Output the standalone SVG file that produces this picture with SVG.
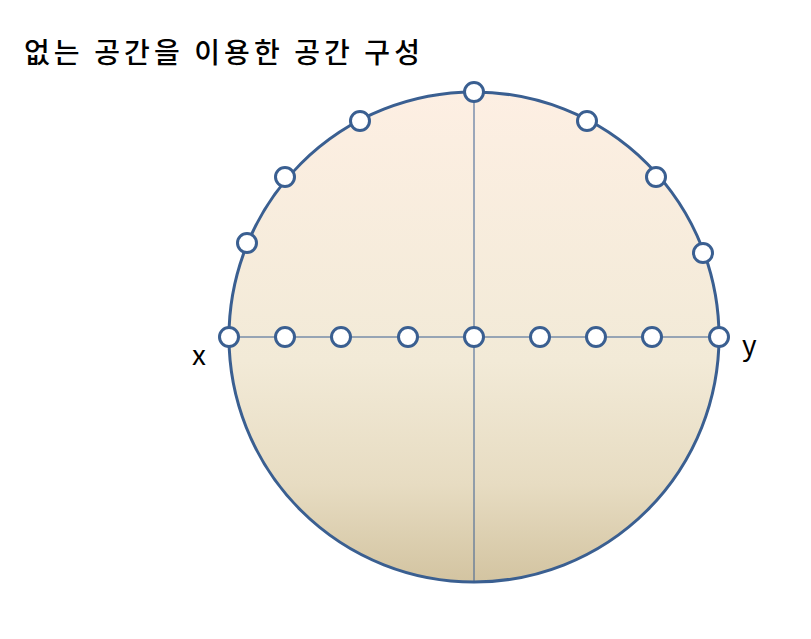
<svg xmlns="http://www.w3.org/2000/svg" width="811" height="639" viewBox="0 0 811 639">
  <defs>
    <linearGradient id="fill" x1="0" y1="0" x2="0" y2="1">
      <stop offset="0" stop-color="#fdefe3"/>
      <stop offset="0.55" stop-color="#f2ead7"/>
      <stop offset="0.8" stop-color="#e7dcc2"/>
      <stop offset="1" stop-color="#d3c4a1"/>
    </linearGradient>
  </defs>
  <style>
    .node { fill: #ffffff; stroke: #3a5f91; stroke-width: 3; }
    .axis { stroke: #3a5f91; stroke-width: 1; fill: none; }
    .lbl { font-family: "Noto Sans CJK KR", "Liberation Sans", sans-serif; fill: #000000; }
  </style>
  <rect width="811" height="639" fill="#ffffff"/>
  <text class="lbl" x="24" y="63" font-size="28" font-weight="500" textLength="396" lengthAdjust="spacing">없는 공간을 이용한 공간 구성</text>
  <g id="space">
    <circle cx="474" cy="337" r="245" fill="url(#fill)" stroke="#3a5f91" stroke-width="3"/>
  </g>
  <g id="connectors">
    <line class="axis" x1="229" y1="337" x2="719" y2="337"/>
    <line class="axis" x1="474" y1="92" x2="474" y2="582"/>
  </g>
  <g id="nodes">
    <g id="n-x"><circle class="node" cx="229" cy="337" r="9.5"/></g>
    <g id="n-h1"><circle class="node" cx="285" cy="337" r="9.5"/></g>
    <g id="n-h2"><circle class="node" cx="341" cy="337" r="9.5"/></g>
    <g id="n-h3"><circle class="node" cx="408" cy="337" r="9.5"/></g>
    <g id="n-c"><circle class="node" cx="474" cy="337" r="9.5"/></g>
    <g id="n-h5"><circle class="node" cx="540" cy="337" r="9.5"/></g>
    <g id="n-h6"><circle class="node" cx="596" cy="337" r="9.5"/></g>
    <g id="n-h7"><circle class="node" cx="652" cy="337" r="9.5"/></g>
    <g id="n-y"><circle class="node" cx="719" cy="337" r="9.5"/></g>
    <g id="n-top"><circle class="node" cx="474" cy="92" r="9.5"/></g>
    <g id="n-p1"><circle class="node" cx="360" cy="121" r="9.5"/></g>
    <g id="n-p2"><circle class="node" cx="285" cy="177" r="9.5"/></g>
    <g id="n-p3"><circle class="node" cx="247" cy="243" r="9.5"/></g>
    <g id="n-p4"><circle class="node" cx="587" cy="121" r="9.5"/></g>
    <g id="n-p5"><circle class="node" cx="656" cy="177" r="9.5"/></g>
    <g id="n-p6"><circle class="node" cx="703" cy="253" r="9.5"/></g>
  </g>
  <text class="lbl" x="192" y="365" font-size="28">x</text>
  <text class="lbl" x="742" y="355" font-size="28">y</text>
</svg>
